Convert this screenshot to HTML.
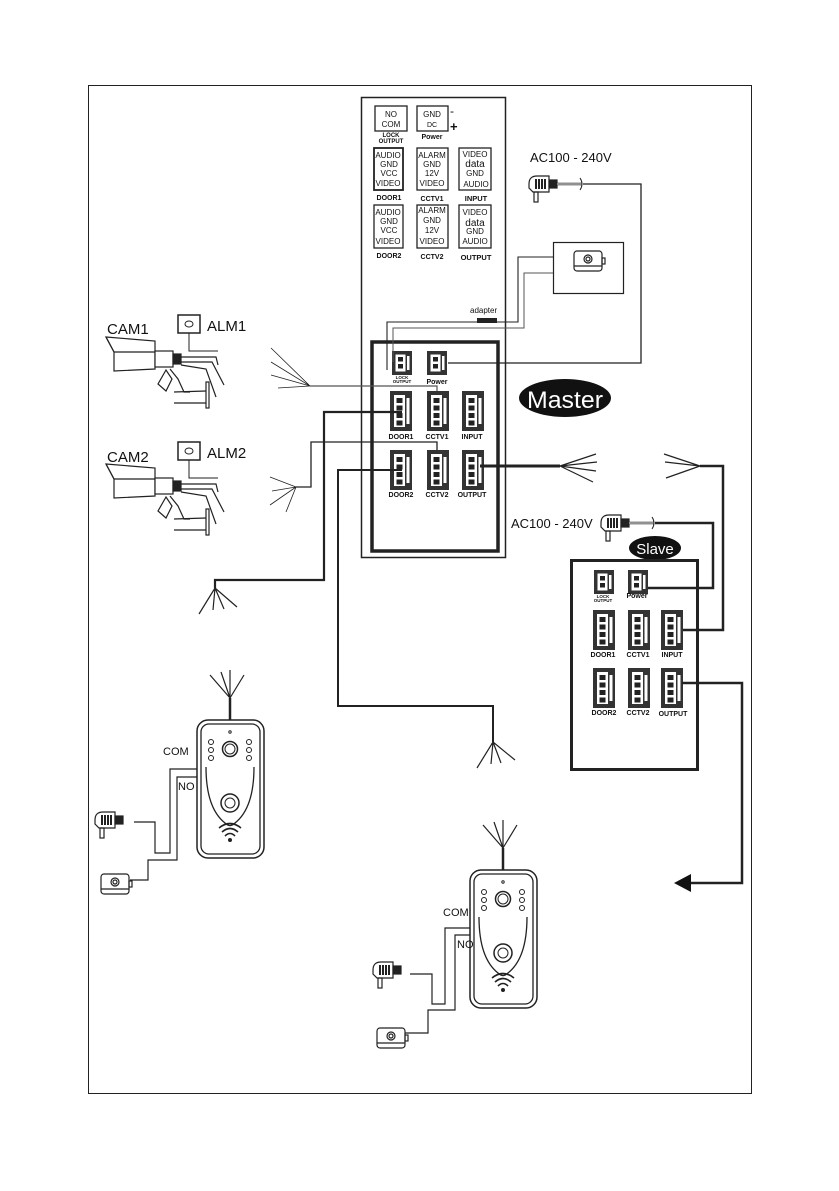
<!DOCTYPE html>
<html><head><meta charset="utf-8"><style>
html,body{margin:0;padding:0;background:#fff;}
svg{display:block;}
text{font-family:"Liberation Sans",sans-serif;fill:#111;}
</style></head><body>
<svg width="839" height="1191" viewBox="0 0 839 1191" xmlns="http://www.w3.org/2000/svg">
<defs>
<g id="c4">
  <rect x="0" y="0" width="22" height="40" fill="#333"/>
  <rect x="4" y="4" width="11" height="32" fill="#fff"/>
  <rect x="6.5" y="7" width="6" height="5" fill="#222"/>
  <rect x="6.5" y="14.5" width="6" height="5" fill="#222"/>
  <rect x="6.5" y="22" width="6" height="5" fill="#222"/>
  <rect x="6.5" y="29.5" width="6" height="5" fill="#222"/>
  <rect x="16.5" y="7" width="3" height="26" fill="#fff"/>
</g>
<g id="c2">
  <rect x="0" y="0" width="20" height="24" fill="#333"/>
  <rect x="3.5" y="3.5" width="10" height="17" fill="#fff"/>
  <rect x="6" y="6" width="5" height="4.5" fill="#222"/>
  <rect x="6" y="13" width="5" height="4.5" fill="#222"/>
  <rect x="15" y="5" width="2.5" height="14" fill="#fff"/>
</g>
<g id="bell" fill="none" stroke="#222">
  <line x1="33" y1="0" x2="33" y2="-22" stroke-width="2.5"/>
  <path d="M33 -22 L13 -45 M33 -22 L24 -48 M33 -22 L33 -50 M33 -22 L47 -45" stroke-width="1.2"/>
  <rect x="0" y="0" width="67" height="138" rx="11" stroke-width="1.5"/>
  <rect x="4" y="4" width="59" height="130" rx="8" stroke-width="1.3"/>
  <path d="M9 47 Q9 88 28 103 Q33 108 38 103 Q57 88 57 47" stroke-width="1.3"/>
  <circle cx="33" cy="12" r="1.2"/>
  <circle cx="33" cy="29" r="7.5" stroke-width="1.5"/>
  <circle cx="33" cy="29" r="5" stroke-width="1"/>
  <circle cx="14" cy="22" r="2.5"/><circle cx="14" cy="30" r="2.5"/><circle cx="14" cy="38" r="2.5"/>
  <circle cx="52" cy="22" r="2.5"/><circle cx="52" cy="30" r="2.5"/><circle cx="52" cy="38" r="2.5"/>
  <circle cx="33" cy="83" r="9" stroke-width="1.5"/>
  <circle cx="33" cy="83" r="5"/>
  <path d="M22 108 Q33 99 44 108 M25 112 Q33 105 41 112 M28 116 Q33 111 38 116" stroke-width="1.6"/>
  <circle cx="33" cy="120" r="1.5" fill="#222"/>
</g>
<g id="plug" fill="none" stroke="#222" stroke-width="1.2">
  <path d="M0 8 Q0 0 8 0 L20 0 L20 16 L4 16 L0 12 Z" fill="#fff"/>
  <path d="M7 3 V13 M10 3 V13 M13 3 V13 M16 3 V13" stroke-width="2"/>
  <rect x="20" y="4" width="8" height="8" fill="#222"/>
  <rect x="5" y="16" width="4" height="10"/>
</g>
<g id="lock" fill="none" stroke="#222" stroke-width="1.2">
  <rect x="0" y="0" width="28" height="20" rx="3" fill="#fff"/>
  <path d="M0 15 H28"/>
  <circle cx="14" cy="8" r="4"/>
  <circle cx="14" cy="8" r="2"/>
  <rect x="28" y="7" width="3" height="6"/>
</g>
<g id="cam" fill="none" stroke="#222" stroke-width="1.2">
  <path d="M0 0 L49 4 L49 32 L8 34 L8 15 Z" fill="#fff"/>
  <path d="M0 0 L8 15 L49 15"/>
  <rect x="49" y="14" width="18" height="16" fill="#fff"/>
  <rect x="67" y="17" width="8" height="10" fill="#222"/>
  <path d="M64 32 L72 42 L78 55 L84 55 M60 33 L52 47 L60 54 L66 42 Z"/>
  <path d="M68 55 L100 54 M68 66 L100 66"/>
  <rect x="100" y="45" width="3" height="26"/>
  <path d="M75 20 L110 20 L112 28 M75 25 L106 25 L118 48 M75 28 L100 32 L110 60"/>
</g>
</defs>

<rect x="88.5" y="85.5" width="663" height="1008" fill="none" stroke="#222" stroke-width="1"/>

<rect x="361.5" y="97.5" width="144" height="460" fill="none" stroke="#222" stroke-width="1.5"/>
<g fill="none" stroke="#222" stroke-width="1.3">
  <rect x="375" y="106" width="32" height="25"/>
  <rect x="417" y="106" width="31" height="25"/>
  <rect x="374" y="148" width="29" height="42" stroke-width="1.8"/>
  <rect x="417" y="148" width="31" height="42"/>
  <rect x="459" y="148" width="32" height="42"/>
  <rect x="374" y="205" width="29" height="43"/>
  <rect x="417" y="205" width="31" height="43"/>
  <rect x="459" y="205" width="32" height="43"/>
</g>
<g font-size="8" text-anchor="middle">
  <text x="391" y="117">NO</text><text x="391" y="127">COM</text>
  <text x="432" y="117">GND</text><text x="432" y="127" font-size="7">DC</text>
  <text x="388" y="158">AUDIO</text><text x="389" y="167">GND</text><text x="389" y="176">VCC</text><text x="388" y="186">VIDEO</text>
  <text x="432" y="158">ALARM</text><text x="432" y="167">GND</text><text x="432" y="176">12V</text><text x="432" y="186">VIDEO</text>
  <text x="475" y="157">VIDEO</text><text x="475" y="167" font-size="10">data</text><text x="475" y="176">GND</text><text x="476" y="187">AUDIO</text>
  <text x="388" y="215">AUDIO</text><text x="389" y="224">GND</text><text x="389" y="233">VCC</text><text x="388" y="244">VIDEO</text>
  <text x="432" y="213">ALARM</text><text x="432" y="223">GND</text><text x="432" y="233">12V</text><text x="432" y="244">VIDEO</text>
  <text x="475" y="215">VIDEO</text><text x="475" y="226" font-size="10">data</text><text x="475" y="234">GND</text><text x="475" y="244">AUDIO</text>
</g>
<g font-size="6" font-weight="bold" text-anchor="middle">
  <text x="391" y="137">LOCK</text><text x="391" y="143">OUTPUT</text>
  <text x="432" y="139" font-size="7">Power</text>
  <text x="389" y="200" font-size="7">DOOR1</text><text x="432" y="201" font-size="7">CCTV1</text><text x="476" y="201" font-size="7.5">INPUT</text>
  <text x="389" y="258" font-size="7">DOOR2</text><text x="432" y="259" font-size="7">CCTV2</text><text x="476" y="260" font-size="7.5">OUTPUT</text>
</g>
<text x="450" y="115" font-size="12">-</text>
<text x="450" y="131" font-size="13" font-weight="bold">+</text>
<text x="470" y="313" font-size="8">adapter</text>
<rect x="477" y="318" width="20" height="5" fill="#222"/>

<rect x="372" y="342" width="126" height="209" fill="none" stroke="#222" stroke-width="3.5"/>
<use href="#c2" x="392" y="351"/>
<use href="#c2" x="427" y="351"/>
<use href="#c4" x="390" y="391"/>
<use href="#c4" x="427" y="391"/>
<use href="#c4" x="462" y="391"/>
<use href="#c4" x="390" y="450"/>
<use href="#c4" x="427" y="450"/>
<use href="#c4" x="462" y="450"/>
<g font-size="7" font-weight="bold" text-anchor="middle">
  <text x="402" y="379" font-size="4.5">LOCK</text><text x="402" y="383" font-size="4.5">OUTPUT</text>
  <text x="437" y="384">Power</text>
  <text x="401" y="439">DOOR1</text><text x="437" y="439">CCTV1</text><text x="472" y="439">INPUT</text>
  <text x="401" y="497">DOOR2</text><text x="437" y="497">CCTV2</text><text x="472" y="497">OUTPUT</text>
</g>

<text x="530" y="162" font-size="13">AC100 - 240V</text>
<use href="#plug" x="529" y="176"/>
<path d="M557 184 H582" stroke="#222" stroke-width="2.5" fill="none"/>
<path d="M557 184 H582" stroke="#fff" stroke-width="1" fill="none"/>
<path d="M580 178 Q584 184 580 190" stroke="#222" fill="none"/>
<path d="M583 184 H641 V363 H448" stroke="#222" stroke-width="1.3" fill="none"/>

<rect x="553.5" y="242.5" width="70" height="51" fill="none" stroke="#222" stroke-width="1.2"/>
<use href="#lock" x="574" y="251"/>
<path d="M553 257 H518 V322 H387 V370" stroke="#222" stroke-width="1.1" fill="none"/>
<path d="M553 273 H524 V328 H393 V362" stroke="#555" stroke-width="1" fill="none"/>

<ellipse cx="565" cy="398" rx="46" ry="19" fill="#111"/>
<text x="565" y="408" font-size="24" text-anchor="middle" textLength="76" lengthAdjust="spacingAndGlyphs" style="fill:#fff">Master</text>

<text x="107" y="334" font-size="15">CAM1</text>
<rect x="178" y="315" width="22" height="18" fill="none" stroke="#222" stroke-width="1.5"/>
<ellipse cx="189" cy="324" rx="4" ry="3" fill="none" stroke="#222"/>
<text x="207" y="331" font-size="15">ALM1</text>
<path d="M189 333 V351 H218" stroke="#222" fill="none"/>
<use href="#cam" x="106" y="337"/>
<text x="107" y="462" font-size="15">CAM2</text>
<rect x="178" y="442" width="22" height="18" fill="none" stroke="#222" stroke-width="1.5"/>
<ellipse cx="189" cy="451" rx="4" ry="3" fill="none" stroke="#222"/>
<text x="207" y="458" font-size="15">ALM2</text>
<path d="M189 460 V478 H218" stroke="#222" fill="none"/>
<use href="#cam" x="106" y="464"/>

<g stroke="#222" fill="none">
  <path d="M310 386 L271 348 M310 386 L271 362 M310 386 L271 375 M310 386 L278 388" stroke-width="0.8"/>
  <path d="M310 386 H437 V391" stroke="#555" stroke-width="1.2"/>
  <path d="M402 412 H324 V580 H215 V588" stroke-width="2.2"/>
  <path d="M215 588 L199 614 M215 588 L213 610 M215 588 L224 609 M215 588 L237 607" stroke-width="1.2"/>
  <path d="M437 450 V442 H311 V487 H296" stroke-width="1.3"/>
  <path d="M296 487 L270 477 M296 487 L272 491 M296 487 L270 505 M296 487 L286 512" stroke-width="0.8"/>
  <path d="M402 470 H338 V706 H493 V742" stroke-width="2"/>
  <path d="M493 742 L477 768 M493 742 L491 764 M493 742 L501 763 M493 742 L515 760" stroke-width="1.2"/>
  <path d="M480 466 H560" stroke-width="3"/>
  <path d="M560 466 L596 454 M560 466 L597 462 M560 466 L596 471 M560 466 L593 482" stroke-width="1.2"/>
  <path d="M664 454 L700 466 M665 462 L700 466 M666 478 L700 466" stroke-width="1.2"/>
  <path d="M700 466 H723 V630 H681" stroke-width="2.5"/>
</g>

<text x="511" y="528" font-size="13">AC100 - 240V</text>
<use href="#plug" x="601" y="515"/>
<path d="M629 523 H654" stroke="#222" stroke-width="2.5" fill="none"/>
<path d="M629 523 H654" stroke="#fff" stroke-width="1" fill="none"/>
<path d="M652 517 Q656 523 652 529" stroke="#222" fill="none"/>
<path d="M655 523 H713 V588 H645" stroke="#222" stroke-width="2.5" fill="none"/>
<ellipse cx="655" cy="548" rx="26" ry="12" fill="#111"/>
<text x="655" y="554" font-size="15" text-anchor="middle" style="fill:#fff">Slave</text>
<rect x="571.5" y="560.5" width="126" height="209" fill="none" stroke="#222" stroke-width="3"/>
<use href="#c2" x="594" y="570"/>
<use href="#c2" x="628" y="570"/>
<use href="#c4" x="593" y="610"/>
<use href="#c4" x="628" y="610"/>
<use href="#c4" x="661" y="610"/>
<use href="#c4" x="593" y="668"/>
<use href="#c4" x="628" y="668"/>
<use href="#c4" x="661" y="668"/>
<g font-size="7" font-weight="bold" text-anchor="middle">
  <text x="603" y="598" font-size="4.5">LOCK</text><text x="603" y="602" font-size="4.5">OUTPUT</text>
  <text x="637" y="598">Power</text>
  <text x="603" y="657">DOOR1</text><text x="638" y="657">CCTV1</text><text x="672" y="657">INPUT</text>
  <text x="604" y="715">DOOR2</text><text x="638" y="715">CCTV2</text><text x="673" y="716">OUTPUT</text>
</g>
<path d="M682 683 H742 V883 H690" stroke="#222" stroke-width="2.5" fill="none"/>
<polygon points="674,883 691,874 691,892" fill="#111"/>

<use href="#bell" x="197" y="720"/>
<text x="163" y="755" font-size="11">COM</text>
<text x="178" y="790" font-size="11">NO</text>
<g stroke="#222" fill="none" stroke-width="1.2">
  <path d="M197 769 H170 V853 H155 V822 H134"/>
  <path d="M197 777 H177 V860 H148 V880 H130"/>
</g>
<use href="#plug" x="95" y="812"/>
<use href="#lock" x="101" y="874"/>

<use href="#bell" x="470" y="870"/>
<text x="443" y="916" font-size="11">COM</text>
<text x="457" y="948" font-size="11">NO</text>
<g stroke="#222" fill="none" stroke-width="1.2">
  <path d="M470 928 H445 V1004 H432 V974 H410"/>
  <path d="M470 935 H455 V1010 H428 V1033 H405"/>
</g>
<use href="#plug" x="373" y="962"/>
<use href="#lock" x="377" y="1028"/>
</svg>
</body></html>
